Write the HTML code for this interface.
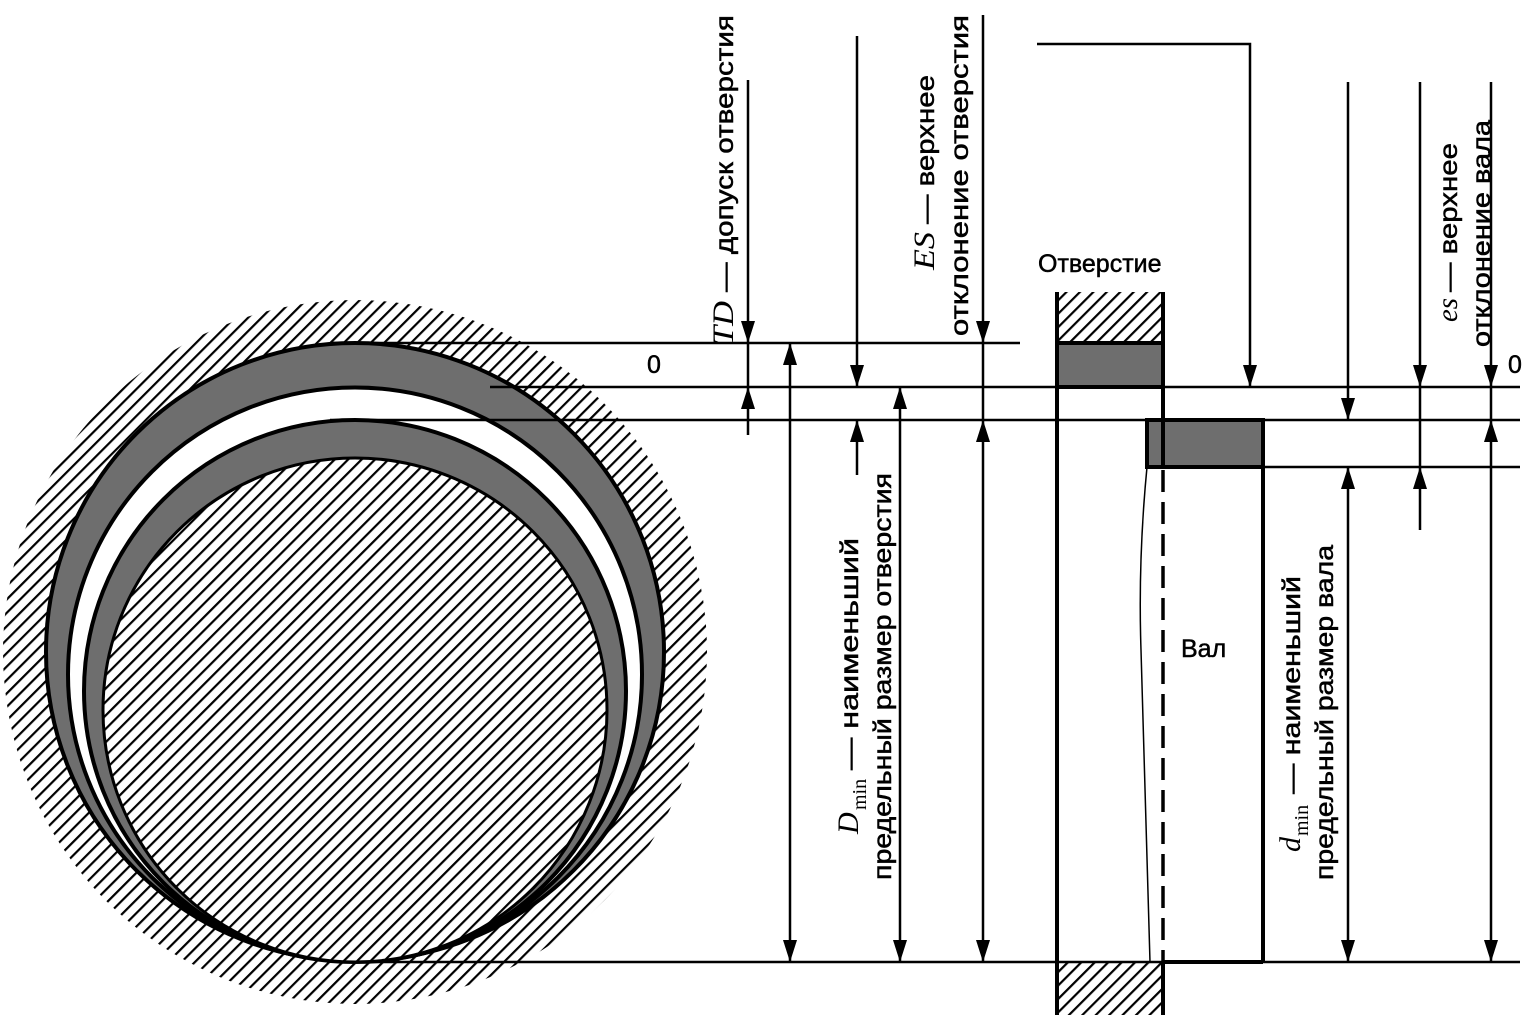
<!DOCTYPE html>
<html><head><meta charset="utf-8"><style>
html,body{margin:0;padding:0;background:#fff;}
svg{display:block;}
text{font-family:"Liberation Sans",sans-serif;font-size:25px;fill:#000;stroke:#000;stroke-width:0.5;}
.i{font-family:"Liberation Serif",serif;font-style:italic;font-size:30px;stroke-width:0;}
.s{font-family:"Liberation Serif",serif;font-size:20px;stroke-width:0;}
</style></head><body>
<svg width="1527" height="1030" viewBox="0 0 1527 1030" xmlns="http://www.w3.org/2000/svg">
<defs>
<pattern id="h" patternUnits="userSpaceOnUse" width="9.5" height="9.5" patternTransform="rotate(45)">
<line x1="1" y1="0" x2="1" y2="9.5" stroke="#000" stroke-width="2.4"/>
</pattern>
<mask id="om">
<rect width="1527" height="1030" fill="#fff"/>
<circle cx="355" cy="652" r="309" fill="#000"/>
</mask>
</defs>

<circle cx="355" cy="652" r="352" fill="url(#h)" mask="url(#om)"/>
<circle cx="355" cy="652" r="309" fill="#6e6e6e" stroke="#000" stroke-width="4"/>
<circle cx="355" cy="674.5" r="287" fill="#fff" stroke="#000" stroke-width="4"/>
<circle cx="355" cy="691" r="271" fill="#6e6e6e" stroke="#000" stroke-width="4"/>
<circle cx="355" cy="710" r="252" fill="#fff" stroke="#000" stroke-width="3"/>
<circle cx="355" cy="710" r="252" fill="url(#h)"/>

<g stroke="#000" stroke-width="2.5">
<line x1="330" y1="343" x2="1020" y2="343"/>
<line x1="490" y1="387" x2="1520" y2="387"/>
<line x1="330" y1="420" x2="1520" y2="420"/>
<line x1="1263" y1="467" x2="1520" y2="467"/>
<line x1="355" y1="962" x2="1520" y2="962"/>
</g>

<rect x="1057" y="292" width="106" height="51" fill="url(#h)"/>
<rect x="1057" y="343" width="106" height="44" fill="#6e6e6e" stroke="#000" stroke-width="4"/>
<rect x="1057" y="962" width="106" height="53" fill="url(#h)"/>
<rect x="1147" y="420" width="116" height="47" fill="#6e6e6e" stroke="#000" stroke-width="4"/>
<g stroke="#000" stroke-width="4">
<line x1="1057" y1="292" x2="1057" y2="1015"/>
<line x1="1163" y1="292" x2="1163" y2="467"/>
<line x1="1163" y1="962" x2="1163" y2="1015"/>
<line x1="1263" y1="420" x2="1263" y2="962"/>
<line x1="1163" y1="962" x2="1263" y2="962"/>
</g>
<line x1="1163" y1="470" x2="1163" y2="962" stroke="#000" stroke-width="3.5" stroke-dasharray="22,10"/>
<path d="M1147,467 Q1138,560 1141,650 Q1145,800 1150,962" fill="none" stroke="#000" stroke-width="1.5"/>

<g stroke="#000" stroke-width="2.5" fill="none">
<line x1="748" y1="80" x2="748" y2="435"/>
<line x1="790" y1="343" x2="790" y2="962"/>
<line x1="857" y1="36" x2="857" y2="387"/>
<line x1="857" y1="420" x2="857" y2="475"/>
<line x1="900" y1="387" x2="900" y2="962"/>
<line x1="983" y1="15" x2="983" y2="962"/>
<polyline points="1037,44 1250,44 1250,387"/>
<line x1="1348" y1="82" x2="1348" y2="420"/>
<line x1="1348" y1="467" x2="1348" y2="962"/>
<line x1="1420" y1="82" x2="1420" y2="530"/>
<line x1="1491" y1="82" x2="1491" y2="962"/>
</g>
<g fill="#000">
<polygon points="741,321 755,321 748,343"/>
<polygon points="783,940 797,940 790,962"/>
<polygon points="850,365 864,365 857,387"/>
<polygon points="893,940 907,940 900,962"/>
<polygon points="976,321 990,321 983,343"/>
<polygon points="976,940 990,940 983,962"/>
<polygon points="1243,365 1257,365 1250,387"/>
<polygon points="1341,398 1355,398 1348,420"/>
<polygon points="1341,940 1355,940 1348,962"/>
<polygon points="1413,365 1427,365 1420,387"/>
<polygon points="1484,365 1498,365 1491,387"/>
<polygon points="1484,940 1498,940 1491,962"/>
<polygon points="741,409 755,409 748,387"/>
<polygon points="783,365 797,365 790,343"/>
<polygon points="850,442 864,442 857,420"/>
<polygon points="893,409 907,409 900,387"/>
<polygon points="976,442 990,442 983,420"/>
<polygon points="1341,489 1355,489 1348,467"/>
<polygon points="1413,489 1427,489 1420,467"/>
<polygon points="1484,442 1498,442 1491,420"/>
</g>

<text x="647" y="373">0</text>
<text x="1508" y="373">0</text>
<text x="1038" y="272">Отверстие</text>
<text x="1181" y="657">Вал</text>

<text class="i" transform="translate(733,345) rotate(-90)" textLength="44" lengthAdjust="spacingAndGlyphs">TD</text>
<text transform="translate(733,292) rotate(-90)" textLength="277" lengthAdjust="spacingAndGlyphs">— допуск отверстия</text>

<text class="i" transform="translate(934,270) rotate(-90)" textLength="38" lengthAdjust="spacingAndGlyphs">ES</text>
<text transform="translate(934,224) rotate(-90)" textLength="149" lengthAdjust="spacingAndGlyphs">— верхнее</text>
<text transform="translate(968,336) rotate(-90)" textLength="321" lengthAdjust="spacingAndGlyphs">отклонение отверстия</text>

<text class="i" transform="translate(858,834) rotate(-90)">D</text>
<text class="s" transform="translate(866,810) rotate(-90)">min</text>
<text transform="translate(858,770) rotate(-90)" textLength="232" lengthAdjust="spacingAndGlyphs">— наименьший</text>
<text transform="translate(891,880) rotate(-90)" textLength="407" lengthAdjust="spacingAndGlyphs">предельный размер отверстия</text>

<text class="i" transform="translate(1300,852) rotate(-90)">d</text>
<text class="s" transform="translate(1308,836) rotate(-90)">min</text>
<text transform="translate(1300,794) rotate(-90)" textLength="218" lengthAdjust="spacingAndGlyphs">— наименьший</text>
<text transform="translate(1333,880) rotate(-90)" textLength="335" lengthAdjust="spacingAndGlyphs">предельный размер вала</text>

<text class="i" transform="translate(1457,322) rotate(-90)" textLength="24" lengthAdjust="spacingAndGlyphs">es</text>
<text transform="translate(1457,292) rotate(-90)" textLength="149" lengthAdjust="spacingAndGlyphs">— верхнее</text>
<text transform="translate(1490,347) rotate(-90)" textLength="227" lengthAdjust="spacingAndGlyphs">отклонение вала</text>
</svg>
</body></html>
